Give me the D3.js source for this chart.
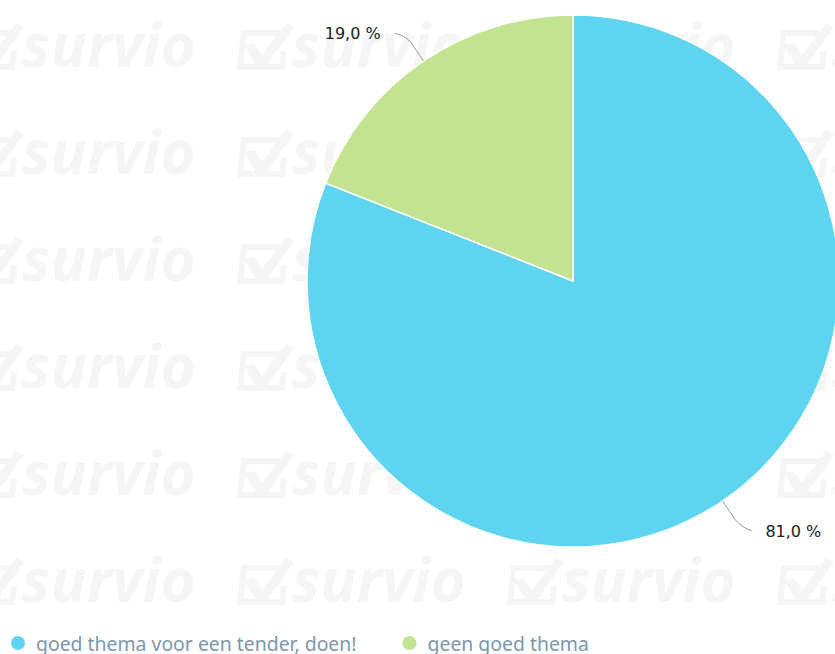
<!DOCTYPE html>
<html>
<head>
<meta charset="utf-8">
<script src="https://cdn.jsdelivr.net/npm/d3@7"></script>
<style>
  body { margin: 0; background: #fff; overflow: hidden; }
  svg { display: block; }
</style>
</head>
<body>
<svg id="chart" width="835" height="654"></svg>
<script>
// chart data
var categories = ["goed thema voor een tender, doen!", "geen goed thema"];
var values = [81.0, 19.0];
var colors = ["#5fd4f1", "#c2e391"];

var width = 835, height = 654;
var svg = d3.select("#chart");

// survio watermark tiles in the background
var wm = svg.append("g").attr("class", "watermark");
var tileCols = d3.range(-1, 4), tileRows = d3.range(0, 6);
tileRows.forEach(function (r) {
  tileCols.forEach(function (c) {
    var tx = 22 + c * 270, ty = 67 + r * 107;
    var g = wm.append("g").attr("transform", "translate(" + tx + "," + ty + ")");
    // checkbox
    g.append("path")
      .attr("d", "M-12,-34 L-48,-34 L-52,0 L-10,0 L-8,-16")
      .attr("fill", "none")
      .attr("stroke", "#f5f5f5")
      .attr("stroke-width", 6);
    g.append("path")
      .attr("d", "M-48,-22 L-38,-24 L-30,-12 L-6,-44 L2,-40 L-28,2 L-34,2 Z")
      .attr("fill", "#f5f5f5");
    g.append("text")
      .attr("x", 0).attr("y", 0)
      .attr("font-family", "'Open Sans', 'DejaVu Sans', sans-serif")
      .attr("font-weight", "bold")
      .attr("font-style", "italic")
      .attr("font-size", 60)
      .attr("fill", "#f5f5f5")
      .text("survio");
  });
});

// pie
var cx = 573, cy = 281, radius = 266;
var pie = d3.pie().sort(null).value(function (d) { return d; });
var arcs = pie(values);
var arc = d3.arc().innerRadius(0).outerRadius(radius);

var g = svg.append("g").attr("transform", "translate(" + cx + "," + cy + ")");

g.selectAll("path.slice")
  .data(arcs)
  .enter().append("path")
  .attr("class", "slice")
  .attr("d", arc)
  .attr("fill", function (d, i) { return colors[i]; })
  .attr("stroke", "#fff")
  .attr("stroke-width", 1.5)
  .attr("stroke-linejoin", "round");

// data labels with soft connectors
function pointAt(a, r) { return [Math.sin(a) * r, -Math.cos(a) * r]; }
arcs.forEach(function (d, i) {
  var mid = (d.startAngle + d.endAngle) / 2;
  var right = Math.sin(mid) > 0;
  var dir = right ? 1 : -1;
  var p0 = pointAt(mid, radius);
  var p1 = pointAt(mid, radius + 30);
  var p2 = [p1[0] + dir * 12, p1[1] + (right ? 5 : -3)];
  g.append("path")
    .attr("d", "M" + p0 + " L" + pointAt(mid, radius + 22) + " Q" + p1 + " " + p2)
    .attr("fill", "none")
    .attr("stroke", "#999")
    .attr("stroke-width", 1);
  g.append("text")
    .attr("x", p2[0] + dir * 14)
    .attr("y", p2[1] + 6)
    .attr("text-anchor", right ? "start" : "end")
    .attr("font-family", "'DejaVu Sans', sans-serif")
    .attr("font-size", 16)
    .attr("fill", "#222")
    .text(d3.format(".1f")(values[i]).replace(".", ",") + " %");
});

// legend
var legend = svg.append("g").attr("class", "legend");
var lx = 18;
categories.forEach(function (name, i) {
  legend.append("circle")
    .attr("cx", lx).attr("cy", 643).attr("r", 7)
    .attr("fill", colors[i]);
  var t = legend.append("text")
    .attr("x", lx + 18).attr("y", 651)
    .attr("font-family", "'Noto Sans', sans-serif")
    .attr("font-size", 19.4)
    .attr("fill", "#7d96ab")
    .text(name);
  lx += 18 + t.node().getComputedTextLength() + 53;
});
</script>
</body>
</html>
